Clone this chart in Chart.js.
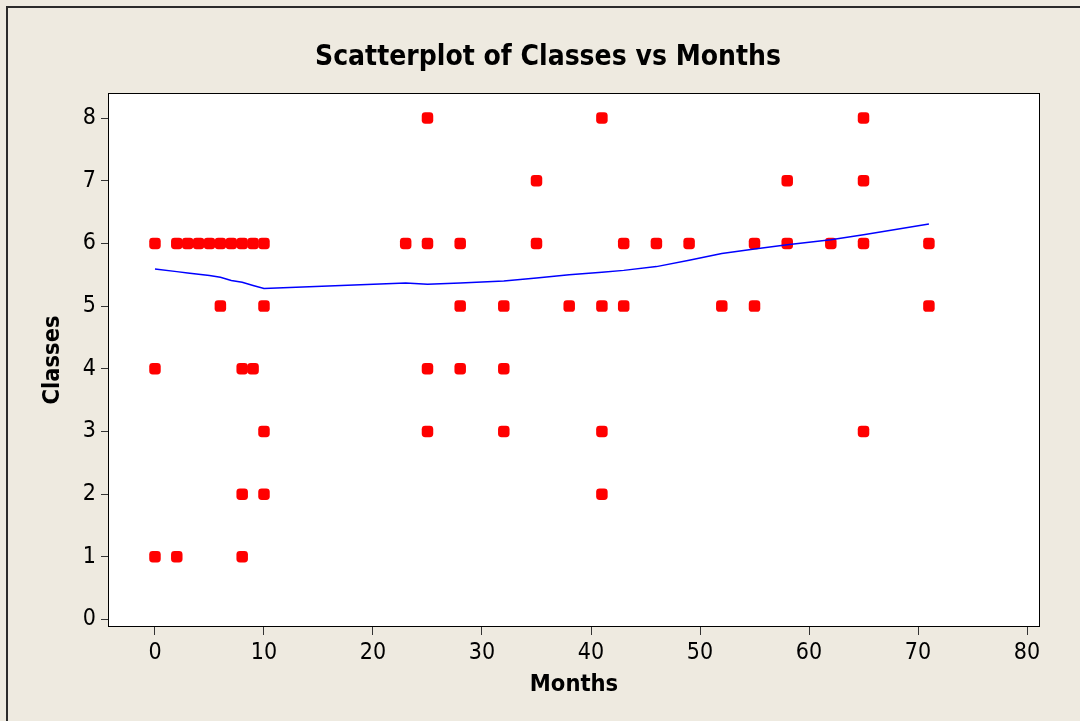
<!DOCTYPE html>
<html>
<head>
<meta charset="utf-8">
<script src="https://cdn.jsdelivr.net/npm/chart.js@4/dist/chart.umd.min.js"></script>
<style>
  html, body { margin: 0; padding: 0; background: #EEEAE0; }
  #wrap { width: 1080px; height: 721px; position: relative; }
</style>
</head>
<body>
<div id="wrap"><canvas id="c"></canvas></div>
<script>
// ---- data ----
const months  = [0,0,0, 2,2, 3, 4, 5, 6,6, 7, 8,8,8,8, 9,9, 10,10,10,10,
                 23, 25,25,25,25, 28,28,28, 32,32,32, 35,35, 38, 41,41,41,41,
                 43,43, 46, 49, 52, 55,55, 58,58, 62, 65,65,65,65, 71,71];
const classes = [6,4,1, 6,1, 6, 6, 6, 6,5, 6, 6,4,2,1, 6,4, 6,5,3,2,
                 6, 8,6,4,3, 6,5,4, 5,4,3, 7,6, 5, 8,5,3,2,
                 6,5, 6, 6, 5, 6,5, 7,6, 6, 8,7,6,3, 6,5];
const smoothMonths  = [0, 2, 3, 4, 5, 6, 7, 8, 9, 10, 23, 25, 28, 32, 35, 38, 41, 43, 46, 49, 52, 55, 58, 62, 65, 71];
const smoothClasses = [5.59, 5.55, 5.53, 5.51, 5.49, 5.46, 5.41, 5.38, 5.33, 5.28, 5.37, 5.35, 5.37, 5.40, 5.45, 5.50, 5.54, 5.57, 5.63, 5.73, 5.84, 5.91, 5.98, 6.06, 6.14, 6.31];
const xTickValues = [0, 10, 20, 30, 40, 50, 60, 70, 80];
const yTickValues = [0, 1, 2, 3, 4, 5, 6, 7, 8];
const titleText = 'Scatterplot of Classes vs Months';
const xTitle = 'Months';
const yTitle = 'Classes';

const FONT = "'DejaVu Sans Condensed', 'DejaVu Sans', sans-serif";

const scatterData = months.map((m, i) => ({ x: m, y: classes[i] }));
const smoothData = smoothMonths.map((m, i) => ({ x: m, y: smoothClasses[i] }));

const framePlugin = {
  id: 'frame',
  beforeDraw(chart) {
    const { ctx, chartArea: a, width, height } = chart;
    ctx.save();
    ctx.fillStyle = '#EEEAE0';
    ctx.fillRect(0, 0, width, height);
    ctx.fillStyle = '#FFFFFF';
    ctx.fillRect(a.left, a.top, a.right - a.left, a.bottom - a.top);
    ctx.restore();
  },
  afterDraw(chart) {
    const { ctx, chartArea: a, width, height } = chart;
    ctx.save();
    ctx.strokeStyle = '#000000';
    ctx.lineWidth = 1;
    ctx.strokeRect(Math.round(a.left) + 0.5, Math.round(a.top) + 0.5,
                   Math.round(a.right - a.left) - 1, Math.round(a.bottom - a.top) - 1);
    ctx.strokeStyle = '#2b2b2b';
    ctx.lineWidth = 2;
    ctx.beginPath();
    ctx.moveTo(7, height);
    ctx.lineTo(7, 7);
    ctx.lineTo(width, 7);
    ctx.stroke();
    ctx.restore();
  }
};

new Chart(document.getElementById('c'), {
  type: 'scatter',
  data: {
    datasets: [
      {
        type: 'line',
        data: smoothData,
        borderColor: '#0000FF',
        borderWidth: 1.5,
        pointRadius: 0,
        tension: 0,
        fill: false,
        order: 0
      },
      {
        type: 'scatter',
        data: scatterData,
        pointStyle: 'rectRounded',
        pointRadius: 6.7,
        pointBackgroundColor: '#FF0000',
        pointBorderColor: '#FF0000',
        pointBorderWidth: 0,
        order: 1
      }
    ]
  },
  options: {
    responsive: true,
    maintainAspectRatio: false,
    animation: false,
    layout: { padding: { top: 0, left: 56, right: 40, bottom: 0 } },
    plugins: {
      legend: { display: false },
      tooltip: { enabled: false },
      title: {
        display: true,
        text: titleText,
        color: '#000000',
        font: { family: FONT, size: 28, weight: 'bold', lineHeight: 1.2 },
        padding: { top: 41, bottom: 18.4 }
      }
    },
    scales: {
      x: {
        type: 'linear',
        min: -4.31,
        max: 81.19,
        afterBuildTicks: (s) => { s.ticks = xTickValues.map(v => ({ value: v })); },
        afterFit: (s) => { s.height = 94; },
        grid: { display: true, drawOnChartArea: false, drawTicks: true, tickLength: 8, tickColor: '#333333', color: '#333333' },
        border: { display: false },
        ticks: { color: '#000000', padding: 4, maxRotation: 0, autoSkip: false,
                 font: { family: FONT, size: 23, lineHeight: 1.2 } },
        title: { display: true, text: xTitle, color: '#000000',
                 font: { family: FONT, size: 23.5, weight: 'bold', lineHeight: 1.2 },
                 padding: { top: 0, bottom: 22 } }
      },
      y: {
        type: 'linear',
        min: -0.12,
        max: 8.40,
        afterBuildTicks: (s) => { s.ticks = yTickValues.map(v => ({ value: v })); },
        afterFit: (s) => { s.width = 52; },
        grid: { display: true, drawOnChartArea: false, drawTicks: true, tickLength: 7, tickColor: '#333333', color: '#333333' },
        border: { display: false },
        ticks: { color: '#000000', padding: 5, autoSkip: false,
                 font: { family: FONT, size: 23, lineHeight: 1.2 } },
        title: { display: true, text: yTitle, color: '#000000',
                 font: { family: FONT, size: 23.5, weight: 'bold', lineHeight: 1.2 },
                 padding: { top: -17, bottom: 0 } }
      }
    }
  },
  plugins: [framePlugin]
});
</script>
</body>
</html>
